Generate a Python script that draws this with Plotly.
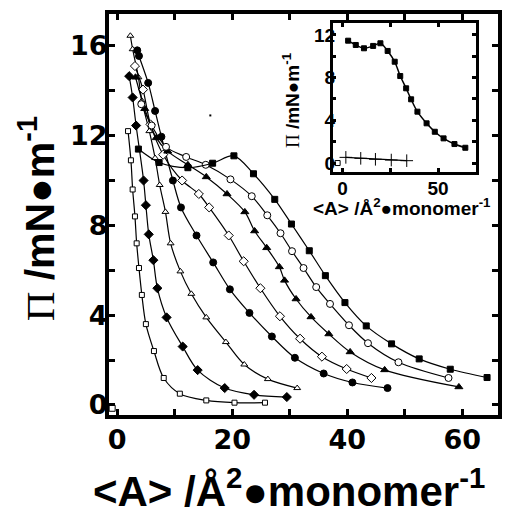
import plotly.graph_objects as go

# ---------------- main chart data ----------------
sq_open_x = [1.9, 2.4, 2.7, 3.1, 3.4, 3.8, 4.3, 5.0, 6.4, 8.1, 10.9, 15.5, 20.4, 25.7]
sq_open_y = [12.2, 10.9, 9.6, 8.4, 7.2, 6.1, 4.9, 3.6, 2.4, 1.2, 0.5, 0.2, 0.1, 0.1]

dia_fill_x = [2.1, 2.7, 3.3, 4.6, 5.0, 5.5, 6.3, 7.0, 8.6, 11.4, 14.0, 18.7, 23.8, 29.5]
dia_fill_y = [14.65, 13.7, 12.45, 10.0, 8.9, 7.6, 6.45, 5.2, 3.9, 2.6, 1.55, 0.75, 0.45, 0.35]

tri_open_x = [2.3, 2.7, 3.7, 4.3, 5.6, 6.6, 7.4, 8.4, 9.3, 11.0, 12.9, 15.5, 18.9, 22.1, 26.2, 31.3]
tri_open_y = [16.45, 15.85, 14.6, 13.55, 12.2, 11.0, 9.8, 8.6, 7.2, 5.95, 4.95, 3.9, 2.8, 1.8, 1.15, 0.75]

cir_fill_x = [3.5, 3.8, 5.4, 6.6, 7.7, 9.7, 11.1, 13.8, 16.7, 19.6, 23.0, 26.9, 30.9, 35.9, 40.9, 47.0]
cir_fill_y = [15.8, 15.55, 14.35, 13.1, 11.95, 10.0, 8.8, 7.55, 6.35, 5.15, 4.1, 3.05, 2.1, 1.4, 1.0, 0.75]

dia_open_x = [3.1, 4.5, 5.8, 8.0, 11.3, 14.2, 16.0, 19.4, 22.0, 24.9, 28.3, 31.8, 35.6, 39.9, 44.2]
dia_open_y = [15.1, 14.05, 12.5, 11.15, 10.0, 9.4, 8.8, 7.55, 6.4, 5.2, 3.95, 2.95, 2.15, 1.6, 1.2]

tri_fill_x = [3.2, 4.8, 6.8, 8.8, 12.3, 15.5, 19.1, 22.2, 23.9, 26.0, 28.2, 29.1, 31.1, 33.7, 36.8, 40.5, 46.5, 59.4]
tri_fill_y = [14.6, 13.2, 11.9, 11.3, 10.7, 10.16, 9.4, 8.6, 7.75, 7.0, 6.15, 5.55, 4.72, 3.92, 3.16, 2.36, 1.56, 0.8]

cir_open_x = [4.2, 6.0, 8.5, 12.0, 15.4, 19.7, 23.4, 26.1, 28.4, 30.4, 32.4, 34.6, 37.0, 40.3, 43.6, 48.9, 57.6]
cir_open_y = [13.4, 12.45, 11.5, 11.05, 10.7, 10.05, 9.3, 8.45, 7.65, 6.85, 6.1, 5.25, 4.5, 3.55, 2.75, 1.9, 1.2]

sq_fill_x = [3.7, 7.3, 12.3, 16.6, 20.3, 23.7, 27.4, 30.3, 33.4, 36.2, 39.6, 43.3, 47.7, 52.5, 57.9, 64.3]
sq_fill_y = [11.4, 10.8, 10.57, 10.77, 11.1, 10.3, 9.16, 8.06, 6.87, 5.76, 4.56, 3.52, 2.72, 2.05, 1.59, 1.22]

# ---------------- inset data ----------------
ins_sq_x = [2.9, 6.9, 11.2, 16.0, 19.8, 23.6, 27.3, 30.2, 33.3, 35.9, 39.2, 44.0, 48.3, 52.9, 58.6, 64.3]
ins_sq_y = [11.46, 11.06, 10.75, 10.97, 11.22, 10.5, 9.49, 8.15, 7.0, 5.97, 4.81, 3.72, 2.93, 2.31, 1.78, 1.43]

ins_plus_x = [1.7, 9.5, 17.2, 25.5, 33.6]
ins_plus_y = [0.53, 0.44, 0.35, 0.28, 0.22]

main_xticks = [0, 20, 40, 60]
main_yticks = [0, 4, 8, 12, 16]
ins_xticks = [0, 50]
ins_yticks = [0, 4, 8, 12]

SANS = "DejaVu Sans"
TITLE_FONT = "Liberation Sans"

fig = go.Figure()


def add(x, y, symbol, filled, size, xa="x", ya="y", lw=1.2):
    fig.add_trace(go.Scatter(
        x=x, y=y, mode="lines+markers", xaxis=xa, yaxis=ya, showlegend=False,
        line=dict(color="black", width=lw, shape="spline", smoothing=0.9),
        marker=dict(symbol=symbol, size=size, color="black" if filled else "white",
                    line=dict(color="black", width=1)),
        cliponaxis=False))


add(sq_open_x, sq_open_y, "square", False, 5)
add(dia_fill_x, dia_fill_y, "diamond", True, 7)
add(tri_open_x, tri_open_y, "triangle-up", False, 6)
add(cir_fill_x, cir_fill_y, "circle", True, 7)
add(dia_open_x, dia_open_y, "diamond", False, 7)
add(tri_fill_x, tri_fill_y, "triangle-up", True, 7)
add(cir_open_x, cir_open_y, "circle", False, 7)
add(sq_fill_x, sq_fill_y, "square", True, 6)

add(ins_sq_x, ins_sq_y, "square", True, 5, "x2", "y2", lw=1.5)
fig.add_trace(go.Scatter(
    x=ins_plus_x, y=ins_plus_y, mode="lines+markers", xaxis="x2", yaxis="y2", showlegend=False,
    line=dict(color="black", width=1.2),
    marker=dict(symbol="cross-thin", size=9, color="black", line=dict(color="black", width=1)),
    cliponaxis=False))

# corner artefacts
fig.add_trace(go.Scatter(x=[-0.86], y=[-0.15], mode="markers", showlegend=False, cliponaxis=False,
                         marker=dict(symbol="square", size=6, color="white", line=dict(color="black", width=1))))
fig.add_trace(go.Scatter(x=[-2.6], y=[0.0], xaxis="x2", yaxis="y2", mode="markers", showlegend=False,
                         cliponaxis=False,
                         marker=dict(symbol="square", size=5, color="white", line=dict(color="black", width=1))))
fig.add_trace(go.Scatter(x=[16.2], y=[12.9], mode="markers", showlegend=False,
                         marker=dict(symbol="square", size=2, color="black")))

axis_common = dict(showline=True, linecolor="black", mirror="ticks", ticks="inside",
                   showgrid=False, zeroline=False, tickcolor="black")

fig.update_layout(
    width=509, height=512,
    margin=dict(l=108.5, r=6.5, t=14, b=97),
    paper_bgcolor="white", plot_bgcolor="white",
    xaxis=dict(domain=[0, 1], range=[-1.41, 66.2], tickvals=main_xticks, linewidth=4,
               ticklen=6, tickwidth=3, ticklabelstandoff=-2,
               minor=dict(dtick=10, tick0=0, ticks="inside", ticklen=6, tickwidth=3, tickcolor="black"),
               tickfont=dict(family=SANS, size=27, color="black", weight="bold"), **axis_common),
    yaxis=dict(domain=[0, 1], range=[-0.45, 17.42], tickvals=main_yticks, linewidth=4,
               ticklen=6, tickwidth=3, ticklabelstandoff=-8,
               minor=dict(dtick=2, tick0=0, ticks="inside", ticklen=6, tickwidth=3, tickcolor="black"),
               tickfont=dict(family=SANS, size=27, color="black", weight="bold"), **axis_common),
    xaxis2=dict(domain=[0.575, 0.943], anchor="y2", range=[-5.2, 69.8], tickvals=ins_xticks,
                linewidth=2.5, ticklen=4, tickwidth=2.5, ticklabelstandoff=-3,
                minor=dict(dtick=25, tick0=0, ticks="inside", ticklen=4, tickwidth=2.5, tickcolor="black"),
                tickfont=dict(family=TITLE_FONT, size=19, color="black", weight="bold"), **axis_common),
    yaxis2=dict(domain=[0.606, 0.9776], anchor="x2", range=[-0.84, 13.12], tickvals=ins_yticks,
                linewidth=2.5, ticklen=4, tickwidth=2.5, ticklabelstandoff=-9,
                minor=dict(dtick=2, tick0=0, ticks="inside", ticklen=4, tickwidth=2.5, tickcolor="black"),
                tickfont=dict(family=TITLE_FONT, size=19, color="black", weight="bold"), **axis_common),
)

PI = "<span style='font-family:Liberation Serif;font-weight:normal'>\u03a0</span>"
xt = "&lt;A&gt; /\u00c5<sup>2</sup>\u25cfmonomer<sup>-1</sup>"
yt = PI + " /mN\u25cfm<sup>-1</sup>"

fig.add_annotation(text=xt, xref="paper", yref="paper", x=0.463, y=-0.181, showarrow=False,
                   xanchor="center", yanchor="middle",
                   font=dict(family=TITLE_FONT, size=42, color="black", weight="bold"))
fig.add_annotation(text=yt, xref="paper", yref="paper", x=-0.1865, y=0.489, showarrow=False,
                   textangle=-90, xanchor="center", yanchor="middle",
                   font=dict(family=TITLE_FONT, size=41, color="black", weight="bold"))
fig.add_annotation(text=xt, xref="paper", yref="paper", x=0.7525, y=0.519, showarrow=False,
                   xanchor="center", yanchor="middle",
                   font=dict(family=TITLE_FONT, size=19, color="black", weight="bold"))
fig.add_annotation(text=yt, xref="paper", yref="paper", x=0.468, y=0.7855, showarrow=False,
                   textangle=-90, xanchor="center", yanchor="middle",
                   font=dict(family=TITLE_FONT, size=19, color="black", weight="bold"))

fig.write_html("out.html")
